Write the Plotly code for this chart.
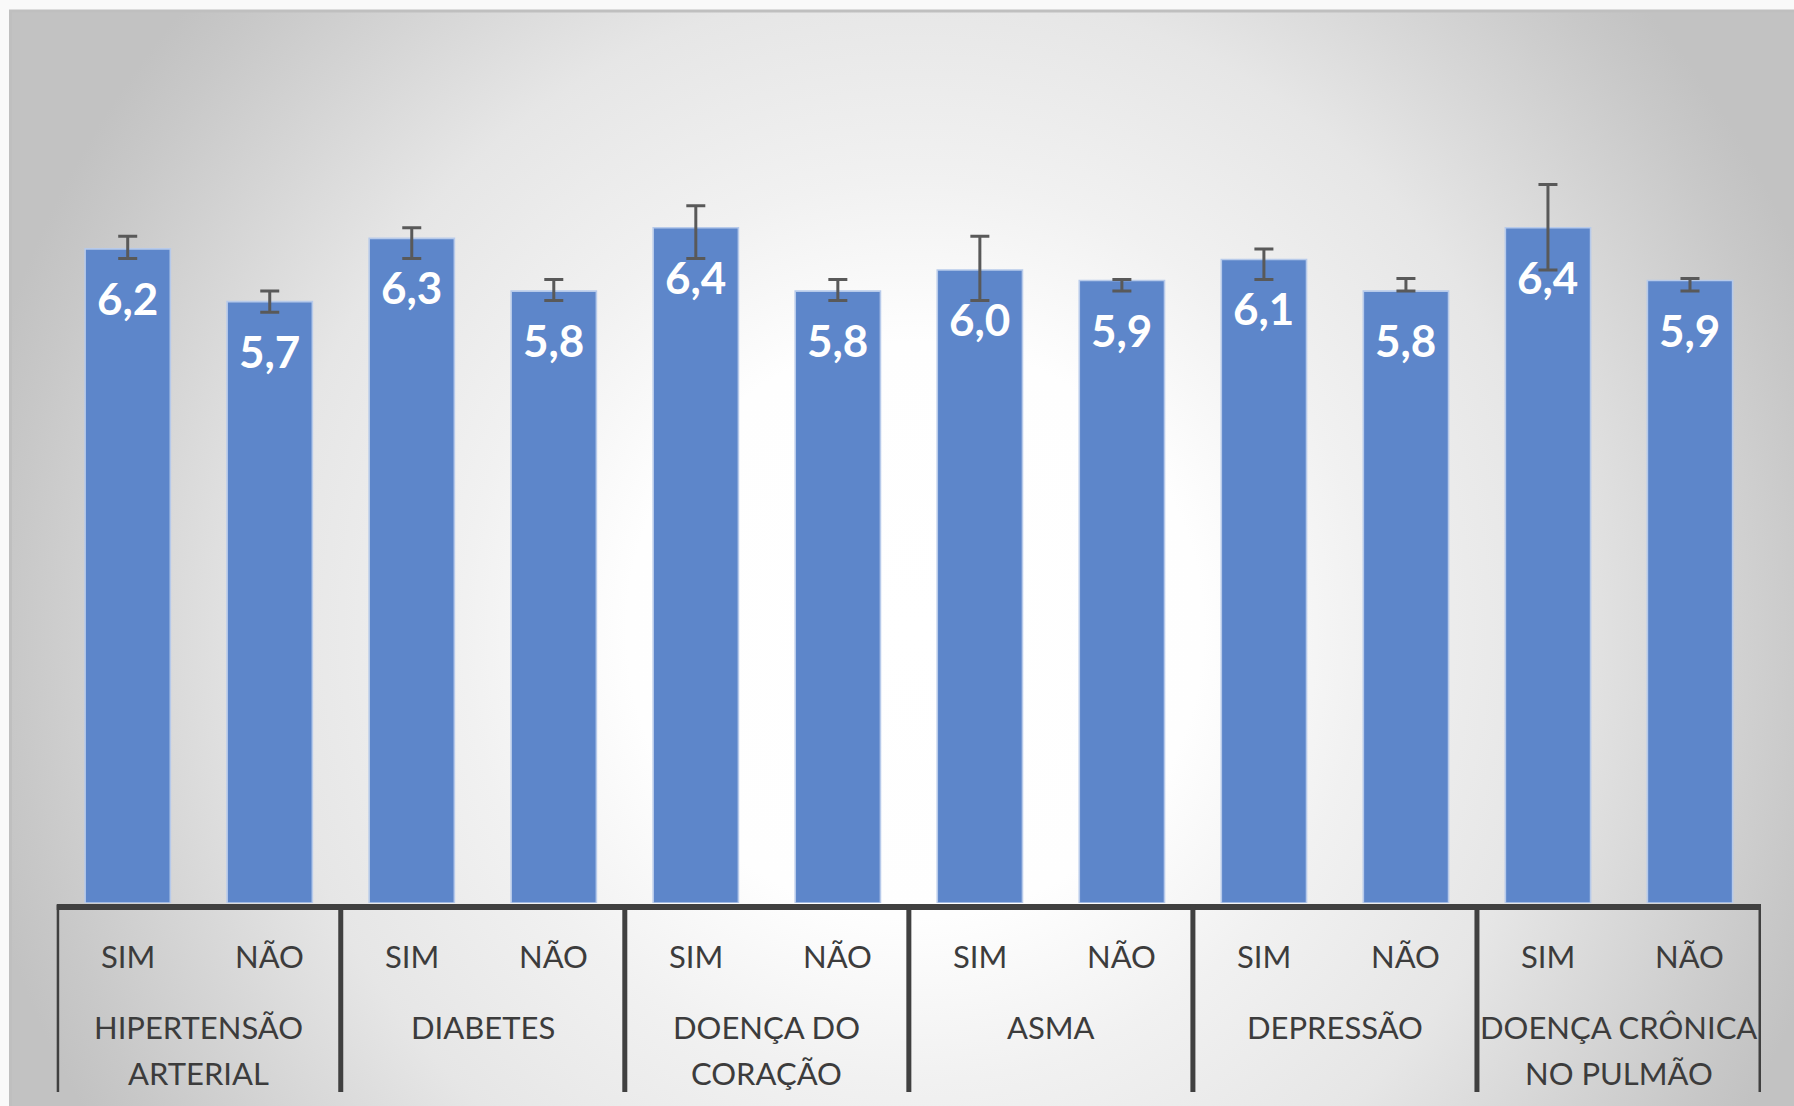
import base64
import plotly.graph_objects as go

# ---------------- data ----------------
groups = ["HIPERTENSÃO ARTERIAL", "DIABETES", "DOENÇA DO CORAÇÃO", "ASMA",
          "DEPRESSÃO", "DOENÇA CRÔNICA NO PULMÃO"]
group_lines = [["HIPERTENSÃO", "ARTERIAL"], ["DIABETES"], ["DOENÇA DO", "CORAÇÃO"],
               ["ASMA"], ["DEPRESSÃO"], ["DOENÇA CRÔNICA", "NO PULMÃO"]]
subcats = ["SIM", "NÃO"]
values = [6.2, 5.7, 6.3, 5.8, 6.4, 5.8, 6.0, 5.9, 6.1, 5.8, 6.4, 5.9]
ci_low = [6.11, 5.60, 6.11, 5.71, 6.11, 5.71, 5.71, 5.80, 5.91, 5.80, 6.00, 5.80]
ci_high = [6.32, 5.80, 6.40, 5.91, 6.61, 5.91, 6.32, 5.91, 6.20, 5.92, 6.81, 5.92]

# ---------------- geometry (pixels) ----------------
W, H = 1794, 1106
X_LEFT, X_RIGHT = 56.7, 1761.0
Y_ZERO = 903.0
PX_PER_UNIT = 105.5
Y_MAX = 8.0
Y_TOP = Y_ZERO - PX_PER_UNIT * Y_MAX


def py(p):
    """pixel from top -> paper y"""
    return (H - p) / H


cats = [f"{g} · {s}" for g in groups for s in subcats]
err_plus = [h - v for h, v in zip(ci_high, values)]
err_minus = [v - l for v, l in zip(values, ci_low)]

TXT = "#3c3c3c"
FONT = "Lato"

fig = go.Figure()
fig.add_trace(go.Bar(
    x=cats, y=values,
    marker=dict(color="#5D86CA", line=dict(color="#B7CAEA", width=1.6)),
    error_y=dict(type="data", symmetric=False, array=err_plus, arrayminus=err_minus,
                 color="#595959", thickness=3, width=9.5),
    hoverinfo="skip",
))

annotations = []
# data labels
for i, v in enumerate(values):
    annotations.append(dict(
        x=i, y=v, xref="x", yref="y", text=f"{v:.1f}".replace(".", ","),
        showarrow=False, yanchor="middle", yshift=-49,
        font=dict(family=FONT, size=44, color="white", weight="bold"),
    ))
# sub-category labels
for i, c in enumerate(cats):
    annotations.append(dict(
        x=i, y=py(956), xref="x", yref="paper", text=subcats[i % 2],
        showarrow=False, yanchor="middle",
        font=dict(family=FONT, size=31, color=TXT),
    ))
# group labels
line_y = [1026.5, 1073.0]
for g, lines in enumerate(group_lines):
    for k, t in enumerate(lines):
        annotations.append(dict(
            x=2 * g + 0.5, y=py(line_y[k]), xref="x", yref="paper", text=t,
            showarrow=False, yanchor="middle",
            font=dict(family=FONT, size=31, color=TXT),
        ))

shapes = []
# chart border (top / left)
shapes.append(dict(type="rect", xref="paper", yref="paper",
                   x0=10.5 / W, x1=(W + 20) / W, y0=py(H + 20), y1=py(11),
                   line=dict(color="#bfbfbf", width=3), layer="below"))
# axis line
shapes.append(dict(type="line", xref="x", yref="paper",
                   x0=-0.52, x1=len(cats) - 0.48, y0=py(907), y1=py(907),
                   line=dict(color="#404040", width=6)))
# group dividers
for g in range(len(groups) + 1):
    xv = 2 * g - 0.5
    shapes.append(dict(type="line", xref="x", yref="paper",
                       x0=xv, x1=xv, y0=py(905), y1=py(1092),
                       line=dict(color="#404040", width=5)))

# radial gradient background as an SVG image
svg = f'''<svg xmlns="http://www.w3.org/2000/svg" width="{W-10}" height="{H-10}" viewBox="0 0 {W-10} {H-10}">
<defs><radialGradient id="g" gradientUnits="userSpaceOnUse" cx="905" cy="620" r="960">
<stop offset="0" stop-color="#ffffff"/>
<stop offset="0.30" stop-color="#fefefe"/>
<stop offset="0.47" stop-color="#f1f1f1"/>
<stop offset="0.67" stop-color="#e6e6e6"/>
<stop offset="0.94" stop-color="#c8c8c8"/>
<stop offset="1" stop-color="#c2c2c2"/>
</radialGradient></defs>
<rect x="0" y="0" width="{W-10}" height="{H-10}" fill="url(#g)"/>
</svg>'''
src = "data:image/svg+xml;base64," + base64.b64encode(svg.encode()).decode()

fig.update_layout(
    width=W, height=H,
    margin=dict(l=0, r=0, t=0, b=0, pad=0),
    paper_bgcolor="#f9f9f9", plot_bgcolor="rgba(0,0,0,0)",
    showlegend=False, bargap=0.4,
    xaxis=dict(domain=[X_LEFT / W, X_RIGHT / W], type="category",
               range=[-0.5, len(cats) - 0.5], showticklabels=False,
               showgrid=False, zeroline=False, showline=False, ticks=""),
    yaxis=dict(domain=[py(Y_ZERO), py(Y_TOP)], range=[0, Y_MAX],
               showticklabels=False, showgrid=False, zeroline=False,
               showline=False, ticks=""),
    annotations=annotations, shapes=shapes,
    images=[dict(source=src, xref="paper", yref="paper", x=10 / W, y=py(10),
                 sizex=(W - 10) / W, sizey=(H - 10) / H, xanchor="left",
                 yanchor="top", sizing="stretch", layer="below")],
)

fig.write_html("out.html", include_plotlyjs=True, full_html=True,
               config={"displayModeBar": False},
               post_script="document.body.style.margin='0';document.body.style.overflow='hidden';")
